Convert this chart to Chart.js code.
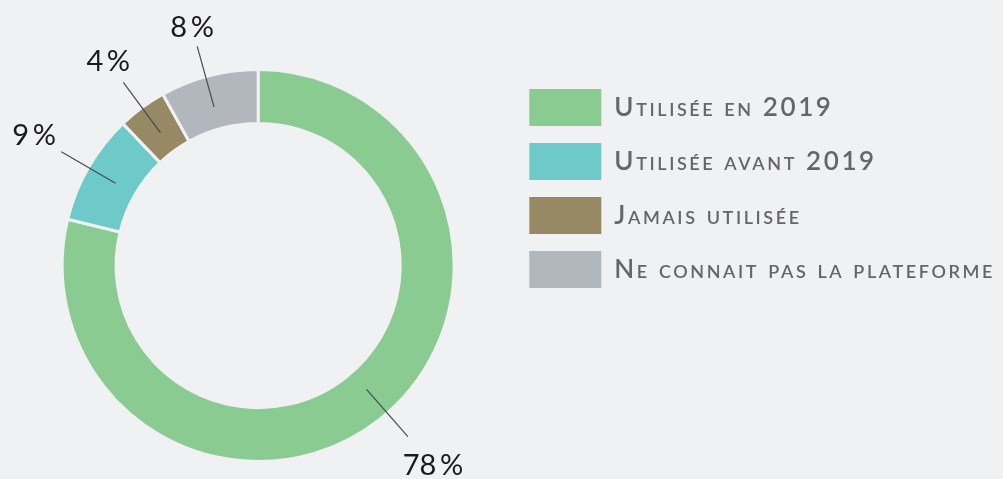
<!DOCTYPE html>
<html>
<head>
<meta charset="utf-8">
<script src="https://cdn.jsdelivr.net/npm/chart.js@4/dist/chart.umd.min.js"></script>
<style>
  html, body { margin: 0; padding: 0; background: #f0f1f3; }
  #wrap { width: 1003px; height: 479px; }
</style>
</head>
<body>
<div id="wrap"><canvas id="c" width="1003" height="479"></canvas></div>
<script>
const categories = ['Utilisée en 2019', 'Utilisée avant 2019', 'Jamais utilisée', 'Ne connait pas la plateforme'];
const values = [78, 9, 4, 8];
const colors = ['#8acb92', '#6dcac8', '#978964', '#b2b6bd'];
const bg = '#f0f1f3';

const labelRadius = [1.355, 1.32, 1.29, 1.258]; // label centre distance, relative to outer radius
const labelAngleOffset = [-3, 0, 0, -1];         // degrees

const spacingPlugin = {
  id: 'spacing',
  beforeLayout(chart) { chart.ctx.letterSpacing = '2.6px'; },
  beforeDraw(chart) { chart.ctx.letterSpacing = '2.6px'; }
};

const leaderPlugin = {
  id: 'leaders',
  afterDatasetsDraw(chart) {
    const ctx = chart.ctx;
    const meta = chart.getDatasetMeta(0);
    ctx.save();
    ctx.letterSpacing = '0px';
    meta.data.forEach((arc, i) => {
      const p = arc.getProps(['x', 'y', 'startAngle', 'endAngle', 'outerRadius'], true);
      const a = (p.startAngle + p.endAngle) / 2 + labelAngleOffset[i] * Math.PI / 180;
      const cx = Math.cos(a), cy = Math.sin(a);
      const r0 = p.outerRadius * 0.84, r1 = p.outerRadius * 1.16;
      ctx.strokeStyle = '#4a4a4a';
      ctx.lineWidth = 1.2;
      ctx.beginPath();
      ctx.moveTo(p.x + cx * r0, p.y + cy * r0);
      ctx.lineTo(p.x + cx * r1, p.y + cy * r1);
      ctx.stroke();
      const rl = p.outerRadius * labelRadius[i];
      ctx.fillStyle = '#1a1a1a';
      ctx.font = '400 29px Lato';
      ctx.textAlign = 'center';
      ctx.textBaseline = 'middle';
      ctx.fillText(values[i] + '\u2009%', p.x + cx * rl, p.y + cy * rl);
    });
    ctx.restore();
  }
};

new Chart(document.getElementById('c'), {
  type: 'doughnut',
  data: {
    labels: categories,
    datasets: [{
      data: values,
      backgroundColor: colors,
      borderColor: bg,
      borderWidth: 3,
      hoverOffset: 0
    }]
  },
  options: {
    responsive: false,
    animation: false,
    cutout: '72.5%',
    layout: { padding: { top: 68, bottom: 16, left: 4, right: -2 } },
    plugins: {
      tooltip: { enabled: false },
      legend: {
        position: 'right',
        align: 'start',
        title: { display: true, text: '', font: { size: 1, lineHeight: 1 }, padding: { top: 2, bottom: 1 } },
        labels: {
          boxWidth: 72,
          boxHeight: 37,
          padding: 17,
          color: '#000000',
          font: { family: 'Lato', size: 26, weight: 'small-caps 600' },
          generateLabels(chart) {
            return categories.map((c, i) => ({
              text: c,
              fillStyle: colors[i],
              strokeStyle: colors[i],
              lineWidth: 0,
              hidden: false,
              index: i
            }));
          }
        }
      }
    }
  },
  plugins: [spacingPlugin, leaderPlugin]
});
</script>
</body>
</html>
